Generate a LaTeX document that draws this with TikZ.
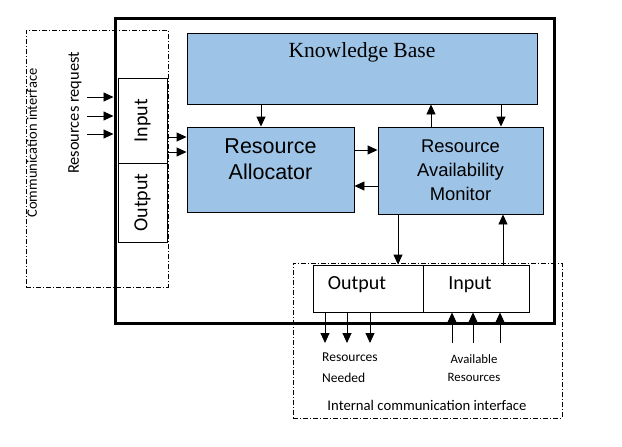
\documentclass[tikz,border=0pt]{standalone}
\usepackage{fontspec}
\setmainfont{Carlito}
\newfontfamily\arialfont{Liberation Sans}
\newfontfamily\timesfont{Liberation Serif}
\usetikzlibrary{positioning,arrows.meta,calc}
\definecolor{PanelBlue}{RGB}{157,195,230}
\tikzset{
  flow/.style={-{Triangle[length=10pt,width=9pt]},line width=0.9pt,draw=black},
  bluebox/.style={draw=black,fill=PanelBlue,line width=0.9pt,inner sep=0pt},
  portbox/.style={draw=black,fill=white,line width=0.9pt,inner sep=0pt},
  iface/.style={draw=black,line width=0.7pt,dash pattern=on 5pt off 2pt on 1pt off 2pt,inner sep=0pt},
  portlabel/.style={font=\fontsize{20}{22}\selectfont},
  smalllabel/.style={font=\fontsize{13.5}{15}\selectfont,inner sep=0pt}
}

\begin{document}
\begin{tikzpicture}[x=1pt,y=-1pt]
  \useasboundingbox (0,0) rectangle (622,447);
  % interfaces
  \node[iface,minimum width=142,minimum height=257] (comm) at (97,158.5) {};
  \node[iface,minimum width=269,minimum height=155] (intcomm) at (427.5,340.5) {};
  \node[draw=black,line width=3pt,minimum width=439,minimum height=305,inner sep=0pt] (system) at (334.5,170.5) {};
  % blocks
  \node[bluebox,minimum width=350,minimum height=71] (kb) at (362,68.5) {};
  \node[font=\timesfont\fontsize{21.6}{24}\selectfont] (kbtext) at ([yshift=-20]kb.north) {Knowledge Base};
  \node[bluebox,minimum width=167,minimum height=85,
    label={[yshift=10,align=center,font=\arialfont\fontsize{21.5}{26}\selectfont]center:Resource\\Allocator}] (alloc) at (270.5,169.5) {};
  \node[bluebox,minimum width=165,minimum height=87,align=center,
    font=\arialfont\fontsize{18.4}{24}\selectfont] (mon) at (460.5,170.5) {Resource\\Availability\\Monitor};
  % ports
  \node[portbox,minimum width=49,minimum height=85] (linput) at (142.5,120.5) {};
  \node[portbox,minimum width=49,minimum height=79] (loutput) at (142.5,202.5) {};
  \node[portlabel,rotate=90] (linputtext) at (linput.center) {Input};
  \node[portlabel,rotate=90] (loutputtext) at (loutput.center) {Output};
  \node[portbox,minimum width=110,minimum height=47] (boutput) at (368,288.5) {};
  \node[portbox,minimum width=106,minimum height=47] (binput) at (476,288.5) {};
  \node[portlabel] (boutputtext) at (357,285) {Output};
  \node[portlabel] (binputtext) at (470,285) {Input};
  % texts
  \node[rotate=90,font=\fontsize{16.4}{18}\selectfont] (reqtext) at (75,113) {Resources request};
  \node[rotate=90,font=\fontsize{14.5}{16}\selectfont] (commtext) at (32,143) {Communication interface};
  \node[smalllabel,anchor=west] (needtext) at (322,357) {Resources};
  \node[smalllabel,anchor=west] (needtextb) at (322,378) {Needed};
  \node[smalllabel,font=\fontsize{12.8}{14}\selectfont] (availtext) at (474,359) {Available};
  \node[smalllabel,font=\fontsize{12.8}{14}\selectfont] (availtextb) at (474,377) {Resources};
  \node[font=\fontsize{14.7}{16}\selectfont] (inttext) at (427,405) {Internal communication interface};
  % free ends
  \coordinate (req) at (87,0);
  \coordinate (outs) at (0,343);
  % connectors
  \foreach \y in {97,116,134}
    \draw[flow] (req |- 0,\y) -- (system.west |- 0,\y);
  \foreach \y in {137,152}
    \draw[flow] (linput.east |- 0,\y) -- (alloc.west |- 0,\y);
  \draw[flow] (kb.south -| 261,0) -- (alloc.north -| 261,0);
  \draw[flow] (mon.north -| 431,0) -- (kb.south -| 431,0);
  \draw[flow] (kb.south -| 501,0) -- (mon.north -| 501,0);
  \draw[flow] (alloc.east |- 0,150) -- (mon.west |- 0,150);
  \draw[flow] (mon.west |- 0,186) -- (alloc.east |- 0,186);
  \draw[flow] (mon.south -| 398,0) -- (boutput.north -| 398,0);
  \draw[flow] (binput.north -| 503,0) -- (mon.south -| 503,0);
  \foreach \x in {325,347,370}
    \draw[flow] (boutput.south -| \x,0) -- (outs -| \x,0);
  \foreach \x in {452,473,500}
    \draw[flow] (outs -| \x,0) -- (binput.south -| \x,0);
\end{tikzpicture}
\end{document}
